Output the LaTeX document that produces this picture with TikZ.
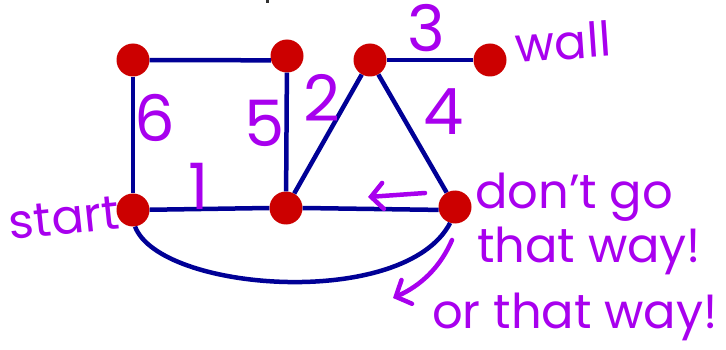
\documentclass[tikz,border=0pt]{standalone}
\usepackage{fontspec}
\setmainfont{Poppins}
\usetikzlibrary{arrows.meta}
\definecolor{edgeblue}{RGB}{0,0,150}
\definecolor{vred}{RGB}{204,0,0}
\definecolor{ink}{RGB}{168,0,238}
\begin{document}
\begin{tikzpicture}[x=1pt,y=-1pt,
  vtx/.style={circle,fill=vred,minimum size=33pt,inner sep=0pt},
  edge/.style={draw=edgeblue,line width=4.5pt},
  numlbl/.style={text=ink,font=\fontsize{64}{64}\selectfont,inner sep=0pt},
  txtlbl/.style={text=ink,font=\fontsize{48}{48}\selectfont,inner sep=0pt},
  hand/.style={draw=ink,line width=4.5pt,line cap=round,line join=round},
  barb/.style={-{Straight Barb[length=12pt,width=26pt,line cap=round]}}]
\useasboundingbox (0,0) rectangle (726,350);
\fill[black!80] (266,0) rectangle (269,3);
% vertices
\node[vtx] (A) at (133,60) {};
\node[vtx] (B) at (287,56) {};
\node[vtx] (C) at (370,60) {};
\node[vtx] (D) at (490,60) {};
\node[vtx] (S) at (133,210) {};
\node[vtx] (M) at (286,208) {};
\node[vtx] (R) at (455,207) {};
% edges
\draw[edge] (A) -- (B.195);
\draw[edge] (A) -- (S);
\draw[edge] (B) -- (M);
\draw[edge] (S) -- (M.west);
\draw[edge] (M.east) -- (R.190);
\draw[edge] (M) -- (C);
\draw[edge] (C) -- (R);
\draw[edge] (C) -- (D);
\draw[edge] (S.-83) .. controls (160,292) and (405,310) .. (R.-107);
% edge labels
\node[numlbl] (l1) at (199,186) {1};
\node[numlbl] (l2) at (322,98) {2};
\node[numlbl] (l3) at (426,28) {3};
\node[numlbl] (l4) at (444,112) {4};
\node[numlbl] (l5) at (265,123) {5};
\node[numlbl] (l6) at (155,118) {6};
% annotations
\node[txtlbl,rotate=4] (wall) at (563,42) {wall};
\node[txtlbl,rotate=6] (start) at (64,218) {start};
\node[txtlbl,anchor=base west] (t1) at (475,208) {don't go};
\node[txtlbl,anchor=base west] (t2) at (477,262) {that way!};
\node[txtlbl,anchor=base west] (t3) at (432,328) {or that way!};
% arrows
\coordinate (a1s) at (425,193);
\coordinate (a1e) at (368,197);
\coordinate (a2s) at (452,240);
\coordinate (a2e) at (393,298);
\draw[hand,barb] (a1s) -- (a1e);
\draw[hand,barb] (a2s) .. controls (440,268) and (420,286) .. (a2e);
\end{tikzpicture}
\end{document}
